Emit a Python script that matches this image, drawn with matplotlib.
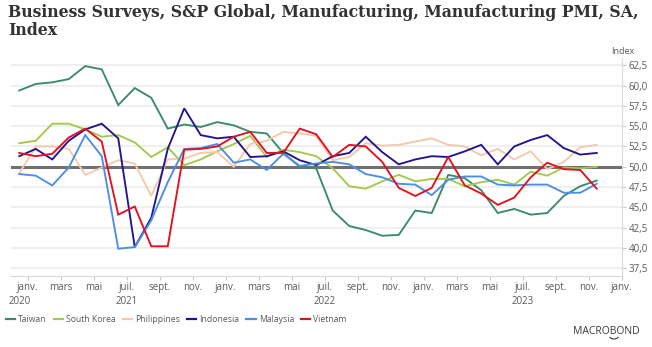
import matplotlib
matplotlib.use("Agg")
import matplotlib.pyplot as plt
from matplotlib.transforms import blended_transform_factory
from matplotlib.ticker import FuncFormatter, FixedLocator
from matplotlib.patches import Arc

# ---------------- data (Dec 2020 .. Nov 2023, monthly) ----------------
taiwan = [59.4,
          60.2, 60.4, 60.8, 62.4, 62.0, 57.6, 59.7, 58.5, 54.7, 55.2, 54.9, 55.5,
          55.1, 54.3, 54.1, 51.7, 50.0, 49.8, 44.6, 42.7, 42.2, 41.5, 41.6, 44.6,
          44.3, 49.0, 48.6, 47.1, 44.3, 44.8, 44.1, 44.3, 46.4, 47.6, 48.3]
south_korea = [52.9,
               53.2, 55.3, 55.3, 54.6, 53.7, 53.9, 53.0, 51.2, 52.4, 50.2, 50.9, 51.9,
               52.8, 53.8, 51.2, 52.1, 51.8, 51.3, 49.8, 47.6, 47.3, 48.2, 49.0, 48.2,
               48.5, 48.5, 47.6, 48.1, 48.4, 47.8, 49.4, 48.9, 49.9, 49.8, 50.0]
philippines = [49.2,
               52.5, 52.5, 52.2, 49.0, 49.9, 50.8, 50.4, 46.4, 50.9, 51.0, 51.7, 51.8,
               50.0, 52.8, 53.2, 54.3, 54.1, 53.8, 50.8, 51.2, 52.9, 52.6, 52.7, 53.1,
               53.5, 52.7, 52.5, 51.4, 52.2, 50.9, 51.9, 49.7, 50.6, 52.4, 52.7]
indonesia = [51.3,
             52.2, 50.9, 53.2, 54.6, 55.3, 53.5, 40.1, 43.7, 52.2, 57.2, 53.9, 53.5,
             53.7, 51.2, 51.3, 51.9, 50.8, 50.2, 51.3, 51.7, 53.7, 51.8, 50.3, 50.9,
             51.3, 51.2, 51.9, 52.7, 50.3, 52.5, 53.3, 53.9, 52.3, 51.5, 51.7]
malaysia = [49.1,
            48.9, 47.7, 49.9, 53.9, 51.3, 39.9, 40.1, 43.4, 48.1, 52.2, 52.3, 52.8,
            50.5, 50.9, 49.6, 51.6, 50.1, 50.4, 50.6, 50.3, 49.1, 48.7, 47.9, 47.8,
            46.5, 48.4, 48.8, 48.8, 47.8, 47.7, 47.8, 47.8, 46.8, 46.8, 47.9]
vietnam = [51.7,
           51.3, 51.6, 53.6, 54.7, 53.1, 44.1, 45.1, 40.2, 40.2, 52.1, 52.2, 52.5,
           53.7, 54.3, 51.7, 51.7, 54.7, 54.0, 51.2, 52.7, 52.5, 50.6, 47.4, 46.4,
           47.4, 51.2, 47.7, 46.7, 45.3, 46.2, 48.7, 50.5, 49.7, 49.6, 47.3]

series_names = ["Taiwan", "South Korea", "Philippines", "Indonesia", "Malaysia", "Vietnam"]
series_values = [taiwan, south_korea, philippines, indonesia, malaysia, vietnam]
series_colors = ["#3b8a6c", "#a3c94b", "#f3c9ab", "#221490", "#4a8fe3", "#e3101f"]

month_labels = ["janv.", "mars", "mai", "juil.", "sept.", "nov."] * 3 + ["janv."]
year_labels = ["2020", "2021", "2022", "2023"]
year_pos = [0.0, 6.5, 18.5, 30.5]
y_ticks = [37.5, 40.0, 42.5, 45.0, 47.5, 50.0, 52.5, 55.0, 57.5, 60.0, 62.5]

# ---------------- figure ----------------
W, H = 652, 347
fig = plt.figure(figsize=(W / 100, H / 100), dpi=100)
fig.patch.set_facecolor("white")
ax = fig.add_axes([11 / W, 1 - 275.5 / H, (621.5 - 11) / W, (275.5 - 58.0) / H])

grey_txt = "#595959"
fam = ["Open Sans", "DejaVu Sans"]

for yt in y_ticks:
    ax.axhline(yt, color="#ebebeb", lw=1.1, zorder=1)
ax.axhline(50.0, color="#707070", lw=2.2, zorder=2)

x = list(range(len(taiwan)))
for name, vals, col in zip(series_names, series_values, series_colors):
    ax.plot(x, vals, color=col, lw=1.35, label=name, zorder=3,
            solid_joinstyle="miter")

ax.set_xlim(-0.5, 36.5)
ax.set_ylim(36.6, 63.4)

# y axis on right
ax.yaxis.tick_right()
ax.yaxis.set_major_locator(FixedLocator(y_ticks))
ax.yaxis.set_major_formatter(FuncFormatter(lambda v, p: f"{v:.1f}".replace(".", ",")))
ax.tick_params(axis="y", which="major", length=3, width=0.8, color="#c8c8c8",
               labelsize=7, labelcolor=grey_txt, pad=2)
for lab in ax.get_yticklabels():
    lab.set_family(fam)

# x axis
xt = [0.5 + 2 * k for k in range(len(month_labels))]
ax.set_xticks(xt)
ax.set_xticklabels(month_labels)
ax.tick_params(axis="x", length=3, width=0.8, color="#c8c8c8", labelsize=7,
               labelcolor=grey_txt, pad=1.5)
for lab in ax.get_xticklabels():
    lab.set_family(fam)

for s in ["top", "left"]:
    ax.spines[s].set_visible(False)
ax.spines["right"].set_color("#d9d9d9")
ax.spines["right"].set_linewidth(0.8)
ax.spines["bottom"].set_color("#d9d9d9")
ax.spines["bottom"].set_linewidth(0.8)

tr = blended_transform_factory(ax.transData, fig.transFigure)
for lbl, pos in zip(year_labels, year_pos):
    fig.text(pos, 1 - 301 / H, lbl, transform=tr, ha="center", va="center",
             fontsize=7, color=grey_txt, family=fam)

# "Index" unit label
fig.text(623 / W, 1 - 52 / H, "Index", ha="center", va="center", fontsize=6.5,
         color=grey_txt, family=fam)

# title (fit to width)
title = fig.text(8 / W, 1 - 4 / H,
                 "Business Surveys, S&P Global, Manufacturing, Manufacturing PMI, SA,\nIndex",
                 ha="left", va="top", fontsize=12, fontweight="bold",
                 family="DejaVu Serif", color="#333333", linespacing=1.05)
fig.canvas.draw()
bb = title.get_window_extent()
title.set_fontsize(12 * 631 / bb.width)

# legend
leg = fig.legend(loc="center left", bbox_to_anchor=(4 / W, 1 - 320 / H), ncol=6,
                 frameon=False, fontsize=6.2, handlelength=1.1, handletextpad=0.35,
                 columnspacing=0.8, borderaxespad=0, borderpad=0.2)
for t in leg.get_texts():
    t.set_color(grey_txt)
    t.set_family(fam)
for l in leg.get_lines():
    l.set_linewidth(1.6)

# logo
fig.text(640 / W, 1 - 331 / H, "MACROBOND", ha="right", va="center", fontsize=7.5,
         color="#3a3a3a", family=fam)
fig.patches.append(Arc((614 / W, 1 - 336 / H), 9 / W, 6 / H, theta1=200, theta2=340,
                       transform=fig.transFigure, color="#3a3a3a", lw=0.8))

fig.savefig("out.png", dpi=100)
